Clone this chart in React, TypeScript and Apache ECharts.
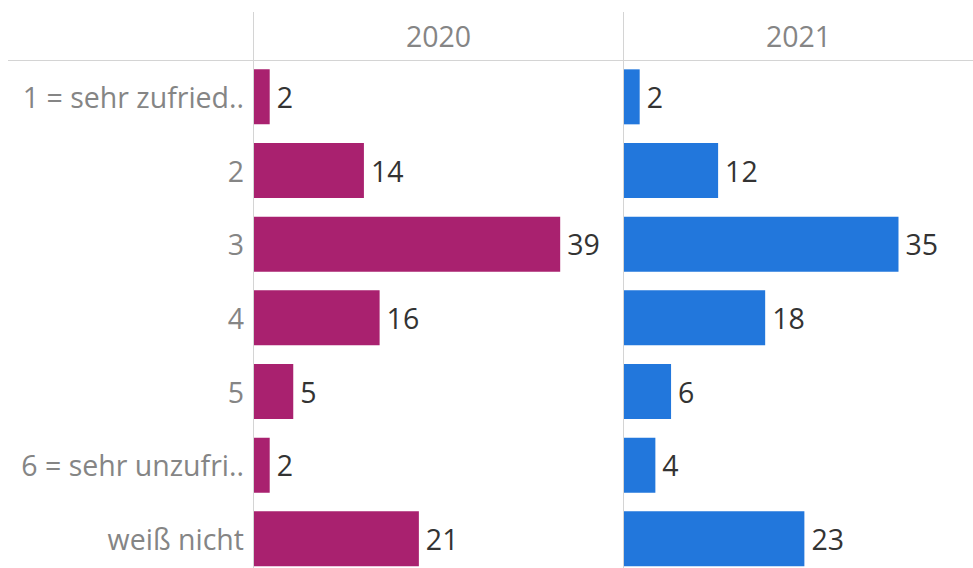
import React, { useEffect, useRef } from "react";
import * as echarts from "echarts";

const categories = ["1 = sehr zufried..", "2", "3", "4", "5", "6 = sehr unzufri..", "weiß nicht"];
const years = ["2020", "2021"];
const values2020 = [2, 14, 39, 16, 5, 2, 21];
const values2021 = [2, 12, 35, 18, 6, 4, 23];

const FONT = "'Open Sans', sans-serif";
const FS = 28.5;

export default function App() {
  const ref = useRef<HTMLDivElement>(null);
  useEffect(() => {
    if (!ref.current) return;
    const chart = echarts.init(ref.current, undefined, { renderer: "svg" });
    const lineColor = "#d4d4d4";
    const mkSeries = (data: number[], idx: number, color: string) => ({
      type: "bar",
      xAxisIndex: idx,
      yAxisIndex: idx,
      data,
      barWidth: 55,
      itemStyle: { color },
      label: {
        show: true,
        position: "right",
        distance: 7,
        color: "#333333",
        fontSize: FS,
        fontFamily: FONT,
      },
      silent: true,
    });
    chart.setOption({
      animation: false,
      grid: [
        { left: 254, top: 60, width: 369, height: 515.7, containLabel: false },
        { left: 624, top: 60, width: 349, height: 515.7, containLabel: false },
      ],
      xAxis: [
        { type: "value", gridIndex: 0, min: 0, max: 47, show: false },
        { type: "value", gridIndex: 1, min: 0, max: 44.5, show: false },
      ],
      yAxis: [
        {
          type: "category",
          gridIndex: 0,
          data: categories,
          inverse: true,
          axisLine: { show: false },
          axisTick: { show: false },
          splitLine: { show: false },
          axisLabel: { color: "#858585", fontSize: FS, fontFamily: FONT, margin: 10 },
        },
        {
          type: "category",
          gridIndex: 1,
          data: categories,
          inverse: true,
          axisLine: { show: false },
          axisTick: { show: false },
          splitLine: { show: false },
          axisLabel: { show: false },
        },
      ],
      series: [mkSeries(values2020, 0, "#A9216F"), mkSeries(values2021, 1, "#2277DC")],
      graphic: [
        { type: "line", shape: { x1: 8, y1: 60.5, x2: 973, y2: 60.5 }, style: { stroke: lineColor, lineWidth: 1 }, silent: true },
        { type: "line", shape: { x1: 253.5, y1: 12, x2: 253.5, y2: 580 }, style: { stroke: lineColor, lineWidth: 1 }, silent: true },
        { type: "line", shape: { x1: 623.5, y1: 12, x2: 623.5, y2: 580 }, style: { stroke: lineColor, lineWidth: 1 }, silent: true },
        {
          type: "text",
          x: 438.5,
          y: 36,
          style: { text: years[0], fill: "#858585", fontSize: FS, fontFamily: FONT, align: "center", verticalAlign: "middle" },
          silent: true,
        },
        {
          type: "text",
          x: 798.5,
          y: 36,
          style: { text: years[1], fill: "#858585", fontSize: FS, fontFamily: FONT, align: "center", verticalAlign: "middle" },
          silent: true,
        },
      ],
    });
    return () => chart.dispose();
  }, []);
  return (
    <div style={{ position: "fixed", left: 0, top: 0, width: 973, height: 568, overflow: "hidden", background: "#ffffff" }}>
      <div ref={ref} style={{ width: 973, height: 580 }} />
    </div>
  );
}
